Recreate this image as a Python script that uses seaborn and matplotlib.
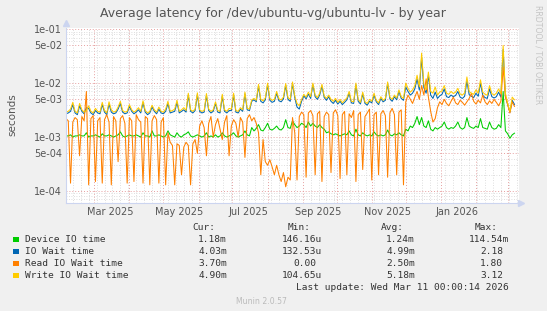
import pandas as pd
import matplotlib
matplotlib.use("Agg")
import matplotlib.pyplot as plt
import matplotlib.dates as mdates
from matplotlib.ticker import LogLocator, FuncFormatter, NullFormatter
from matplotlib.patches import Rectangle
import seaborn as sns

# daily averages sampled every 2 days, in milliseconds
device_io = [
    1.05, 1.05, 1.1, 1.0, 1.05, 1.05, 1.1, 1.05, 1.05, 1.2,
    1.0, 1.05, 1.05, 1.1, 1.05, 1.0, 1.15, 1.05, 1.05, 1.1,
    1.05, 1.0, 1.05, 1.1, 1.25, 1.05, 1.0, 1.05, 1.1, 1.05,
    1.05, 1.1, 1.05, 1.0, 1.2, 1.05, 1.05, 1.0, 1.3, 1.05,
    1.05, 1.1, 1.05, 1.0, 1.05, 1.3, 1.1, 1.05, 1.0, 1.2,
    1.05, 1.0, 1.1, 1.15, 1.25, 1.05, 1.0, 1.05, 1.1, 1.05,
    1.0, 1.05, 1.2, 1.0, 1.05, 1.0, 1.1, 1.0, 1.05, 1.2,
    1.05, 1.0, 1.05, 1.1, 1.2, 1.05, 1.0, 1.05, 1.1, 1.3,
    1.1, 1.05, 1.5, 1.3, 1.45, 1.7, 1.35, 1.3, 1.5, 1.8,
    1.4, 1.35, 1.45, 1.6, 1.4, 1.35, 1.5, 2.1, 1.5, 1.45,
    2.0, 1.7, 1.5, 1.6, 1.8, 1.7, 1.5, 1.9, 1.6, 1.8,
    1.6, 1.5, 1.7, 1.5, 1.4, 1.2, 1.25, 1.15, 1.1, 1.15,
    1.1, 1.05, 1.1, 1.15, 1.1, 1.3, 1.1, 1.05, 1.4, 1.1,
    1.05, 1.2, 1.1, 1.05, 1.1, 1.05, 1.25, 1.1, 1.05, 1.1,
    1.05, 1.1, 1.35, 1.1, 1.05, 1.15, 1.1, 1.2, 1.1, 1.05,
    1.4, 1.3, 1.6, 1.5, 1.8, 2.4, 1.7, 2.3, 1.6, 1.5,
    2.0, 1.4, 1.3, 1.5, 1.4, 1.5, 1.6, 1.9, 1.5, 1.4,
    1.5, 1.45, 1.6, 1.9, 1.5, 1.4, 1.5, 2.3, 1.6, 1.5,
    1.45, 1.6, 1.5, 2.2, 1.5, 1.45, 1.4, 1.9, 1.5, 1.4,
    1.45, 1.7, 1.5, 7.0, 1.3, 1.15, 0.95, 1.1, 1.18,
]
io_wait = [
    2.7, 2.8, 3.0, 4.0, 2.8, 2.6, 3.8, 3.0, 2.7, 3.5,
    3.4, 2.8, 2.6, 3.1, 2.8, 2.7, 4.0, 2.9, 2.6, 4.1,
    2.9, 2.7, 2.8, 3.3, 4.2, 2.9, 2.7, 2.8, 3.7, 3.0,
    2.7, 2.9, 3.2, 2.8, 4.3, 2.9, 2.6, 2.8, 3.6, 3.0,
    2.7, 3.3, 2.8, 2.7, 3.0, 4.2, 2.8, 2.9, 3.0, 4.4,
    2.8, 3.0, 3.2, 2.9, 6.0, 3.0, 2.8, 3.1, 6.1, 3.0,
    2.8, 2.9, 5.9, 3.1, 2.8, 3.0, 4.2, 2.9, 2.8, 5.7,
    3.0, 2.8, 3.1, 3.1, 6.0, 2.9, 2.8, 3.3, 3.0, 6.3,
    3.2, 3.1, 4.6, 4.9, 4.5, 8.8, 4.6, 4.3, 4.9, 9.3,
    4.8, 4.4, 4.6, 6.5, 4.7, 4.5, 5.1, 9.1, 5.0, 4.6,
    9.8, 5.4, 3.6, 3.3, 4.6, 5.8, 5.1, 6.3, 5.2, 9.3,
    5.6, 5.0, 6.0, 8.8, 5.4, 4.8, 5.6, 4.6, 4.2, 4.8,
    4.1, 4.6, 4.0, 4.4, 4.9, 6.5, 4.3, 4.2, 9.3, 4.6,
    4.1, 6.3, 4.2, 3.9, 4.6, 4.3, 6.0, 4.5, 4.0, 5.2,
    4.5, 4.8, 9.8, 5.1, 4.6, 5.6, 4.9, 7.0, 5.2, 4.8,
    8.5, 7.0, 6.0, 6.5, 7.8, 12.0, 7.4, 30.0, 8.2, 6.5,
    14.0, 6.0, 5.2, 6.8, 5.2, 5.8, 6.2, 7.8, 5.6, 5.4,
    6.0, 5.6, 5.9, 7.0, 5.5, 5.2, 5.7, 11.0, 6.1, 5.7,
    5.4, 6.5, 5.7, 10.0, 5.9, 5.4, 5.2, 7.8, 5.6, 5.3,
    5.6, 6.8, 5.5, 42.0, 5.7, 4.0, 2.9, 4.8, 4.03,
]
read_wait = [
    2.2, 2.0, 0.14, 1.9, 2.3, 2.1, 0.45, 2.4, 2.0, 7.0,
    0.13, 2.2, 2.5, 0.15, 2.0, 2.3, 0.14, 2.1, 2.6, 1.9,
    0.13, 2.4, 2.0, 0.35, 2.2, 2.5, 1.8, 0.14, 2.3, 2.0,
    0.15, 2.6, 2.1, 1.9, 0.14, 2.4, 2.2, 0.13, 2.0, 2.5,
    2.1, 0.14, 1.9, 2.3, 0.13, 1.2, 0.8, 0.7, 0.13, 0.75,
    0.7, 0.2, 0.65, 0.8, 0.7, 0.13, 0.75, 0.9, 0.5, 1.6,
    2.0, 1.5, 0.45, 1.8, 2.4, 1.0, 1.7, 2.2, 1.4, 0.9,
    1.9, 2.5, 0.45, 1.6, 2.1, 1.8, 1.0, 2.3, 1.9, 0.42,
    2.2, 2.6, 2.0, 2.3, 1.8, 1.2, 0.2, 0.9, 0.35, 0.3,
    0.38, 0.28, 0.2, 0.3, 0.2, 0.15, 0.22, 0.12, 0.18, 0.16,
    2.3, 1.2, 0.16, 2.4, 2.9, 2.6, 0.18, 2.8, 3.1, 2.5,
    0.2, 2.7, 3.0, 0.15, 2.4, 2.9, 2.6, 0.22, 2.8, 3.2,
    2.5, 0.17, 2.6, 3.0, 0.2, 2.7, 2.3, 3.1, 0.15, 2.6,
    2.9, 0.25, 2.4, 2.8, 3.3, 0.16, 2.6, 2.9, 0.2, 2.7,
    3.1, 2.5, 0.18, 2.8, 3.4, 2.6, 0.2, 2.9, 3.2, 0.13,
    4.5, 6.0, 5.0, 4.2, 5.5, 7.0, 5.0, 9.0, 6.0, 12.0,
    5.5, 3.0, 1.9, 2.2, 3.5, 4.5, 4.0, 5.0, 4.2, 3.8,
    4.6, 5.5, 4.3, 4.0, 4.8, 4.4, 3.9, 4.5, 5.2, 6.5,
    4.6, 4.1, 4.8, 4.3, 6.0, 4.5, 4.0, 4.7, 4.2, 5.0,
    4.4, 3.8, 4.6, 20.0, 5.5, 4.0, 2.8, 4.5, 3.7,
]
write_wait = [
    2.9, 3.0, 3.3, 4.4, 3.0, 2.8, 4.2, 3.2, 2.9, 3.1,
    3.8, 3.0, 2.8, 3.4, 3.0, 2.9, 4.4, 3.1, 2.8, 4.5,
    3.2, 2.9, 3.0, 3.6, 4.6, 3.1, 2.9, 3.0, 4.0, 3.2,
    2.9, 3.1, 3.5, 3.0, 4.7, 3.1, 2.8, 3.0, 3.9, 3.2,
    2.9, 3.6, 3.0, 2.9, 3.3, 4.6, 3.0, 3.1, 3.3, 4.8,
    3.0, 3.2, 3.5, 3.1, 6.5, 3.2, 3.0, 3.3, 6.6, 3.2,
    3.0, 3.1, 6.4, 3.3, 3.0, 3.2, 4.5, 3.1, 3.0, 6.2,
    3.2, 3.0, 3.4, 3.3, 6.5, 3.1, 3.0, 3.5, 3.2, 6.8,
    3.4, 3.3, 4.9, 5.2, 4.8, 9.5, 5.0, 4.7, 5.3, 10.0,
    5.2, 4.8, 5.0, 7.0, 5.1, 4.9, 5.5, 9.8, 5.4, 5.0,
    10.5, 5.8, 4.2, 3.8, 5.0, 6.2, 5.5, 6.8, 5.6, 10.0,
    6.0, 5.4, 6.5, 9.5, 5.8, 5.2, 6.0, 5.0, 4.6, 5.2,
    4.4, 5.0, 4.3, 4.8, 5.3, 7.0, 4.6, 4.5, 10.0, 5.0,
    4.4, 6.8, 4.5, 4.2, 5.0, 4.6, 6.5, 4.8, 4.3, 5.6,
    4.8, 5.2, 10.5, 5.5, 5.0, 6.0, 5.3, 7.5, 5.6, 5.2,
    10.0, 8.0, 6.8, 7.5, 9.0, 14.0, 8.5, 36.0, 9.5, 7.5,
    16.0, 7.0, 6.5, 8.5, 6.0, 6.8, 7.2, 9.0, 6.5, 6.2,
    7.0, 6.4, 6.8, 8.0, 6.3, 6.0, 6.6, 13.0, 7.0, 6.5,
    6.2, 7.5, 6.5, 11.5, 6.8, 6.2, 6.0, 9.0, 6.4, 6.0,
    6.5, 7.8, 6.3, 50.0, 6.5, 4.2, 3.0, 5.5, 4.9,
]

series_names = ["Device IO time", "IO Wait time", "Read IO Wait time", "Write IO Wait time"]
series_colors = ["#00CC00", "#0066B3", "#FF8000", "#FFCC00"]
cur_vals = ["1.18m", "4.03m", "3.70m", "4.90m"]
min_vals = ["146.16u", "132.53u", "0.00", "104.65u"]
avg_vals = ["1.24m", "4.99m", "2.50m", "5.18m"]
max_vals = ["114.54m", "2.18", "1.80", "3.12"]

dates = pd.date_range("2025-02-04", periods=len(device_io), freq="2D")
frames = []
for name, vals in zip(series_names, [device_io, io_wait, read_wait, write_wait]):
    frames.append(pd.DataFrame({"date": dates, "seconds": [v * 1e-3 for v in vals], "series": name}))
df = pd.concat(frames, ignore_index=True)

W, H = 547, 311
fig = plt.figure(figsize=(W / 100, H / 100), dpi=100, facecolor="#F0F0F0")
ax = fig.add_axes([66 / W, 1 - 203 / H, (519 - 66) / W, (203 - 28) / H])
ax.set_facecolor("white")

sns.lineplot(data=df, x="date", y="seconds", hue="series", hue_order=series_names,
             palette=series_colors, estimator=None, linewidth=0.75, legend=False, ax=ax)

ax.set_yscale("log")
ax.set_ylim(6e-5, 0.105)
ax.set_xlim(pd.Timestamp("2025-02-04"), pd.Timestamp("2026-03-11"))

# y grid: red at 1 and 5, grey in between
ax.yaxis.set_major_locator(LogLocator(base=10, subs=[1.0, 5.0]))
ax.yaxis.set_minor_locator(LogLocator(base=10, subs=[2, 3, 4, 6, 7, 8, 9]))
ax.yaxis.set_major_formatter(FuncFormatter(lambda v, p: f"{v:.0e}"))
ax.yaxis.set_minor_formatter(NullFormatter())

# x grid: red at month starts, grey weekly
ax.xaxis.set_major_locator(mdates.MonthLocator(bymonthday=1))
ax.xaxis.set_minor_locator(mdates.WeekdayLocator(byweekday=mdates.MO))
ax.xaxis.set_major_formatter(NullFormatter())

ax.grid(which="minor", color="#D4D4D4", linestyle=(0, (1, 2)), linewidth=0.6)
ax.grid(which="major", color="#E6A0A0", linestyle=(0, (1, 2)), linewidth=0.7)
ax.set_axisbelow(True)
ax.tick_params(axis="both", which="both", length=0)
ax.tick_params(axis="x", labelbottom=False)
ax.tick_params(axis="y", labelsize=7, colors="#555555", pad=3)
ax.set_xlabel("")
ax.set_ylabel("")

for s in ["top", "right"]:
    ax.spines[s].set_visible(False)
for s in ["left", "bottom"]:
    ax.spines[s].set_color("#CCD5F0")
    ax.spines[s].set_linewidth(0.8)
ax.plot([0], [1.03], marker="^", markersize=4, color="#CCD5F0", transform=ax.transAxes, clip_on=False)
ax.plot([1.005], [0], marker=">", markersize=4, color="#CCD5F0", transform=ax.transAxes, clip_on=False)

# month labels centred mid-month
sec = ax.secondary_xaxis("bottom")
sec.xaxis.set_major_locator(mdates.MonthLocator(bymonth=[1, 3, 5, 7, 9, 11], bymonthday=15))
sec.xaxis.set_major_formatter(mdates.DateFormatter("%b %Y"))
sec.tick_params(length=0, labelsize=7, colors="#555555", pad=3)
sec.spines["bottom"].set_visible(False)


def px(x, y):
    return x / W, 1 - y / H


fig.text(*px(273, 14), "Average latency for /dev/ubuntu-vg/ubuntu-lv - by year",
         ha="center", va="center", fontsize=9.0, color="#555555")
fig.text(*px(12, 115), "seconds", rotation=90, ha="center", va="center", fontsize=7.5, color="#555555")
fig.text(*px(538, 5), "RRDTOOL / TOBI OETIKER", rotation=270, ha="center", va="top",
         fontsize=5.6, color="#C4C4C4")
fig.text(*px(261, 301), "Munin 2.0.57", ha="center", va="center", fontsize=5.6, color="#BBBBBB")

mono = dict(family="DejaVu Sans Mono", fontsize=6.8, color="#333333", va="center")
cw = 5.72
col_right = [227, 322, 415, 509]
for head, xr in zip(["Cur:", "Min:", "Avg:", "Max:"], col_right):
    fig.text(*px(xr - 2 * cw, 228), head, ha="right", **mono)

row_y = [239.5, 251.5, 263.7, 275.7]
for k, name in enumerate(series_names):
    y = row_y[k]
    fig.patches.append(Rectangle(px(13, y + 2.6), 5.5 / W, 5.5 / H, transform=fig.transFigure,
                                 facecolor=series_colors[k], edgecolor="none"))
    fig.text(*px(25, y), name, ha="left", **mono)
    for vals, xr in zip([cur_vals, min_vals, avg_vals, max_vals], col_right):
        v = vals[k]
        shift = 0 if v[-1] in "mu" else cw
        fig.text(*px(xr - shift, y), v, ha="right", **mono)

fig.text(*px(509, 287.5), "Last update: Wed Mar 11 00:00:14 2026", ha="right", **mono)

fig.savefig("out.png", dpi=100, facecolor=fig.get_facecolor())
